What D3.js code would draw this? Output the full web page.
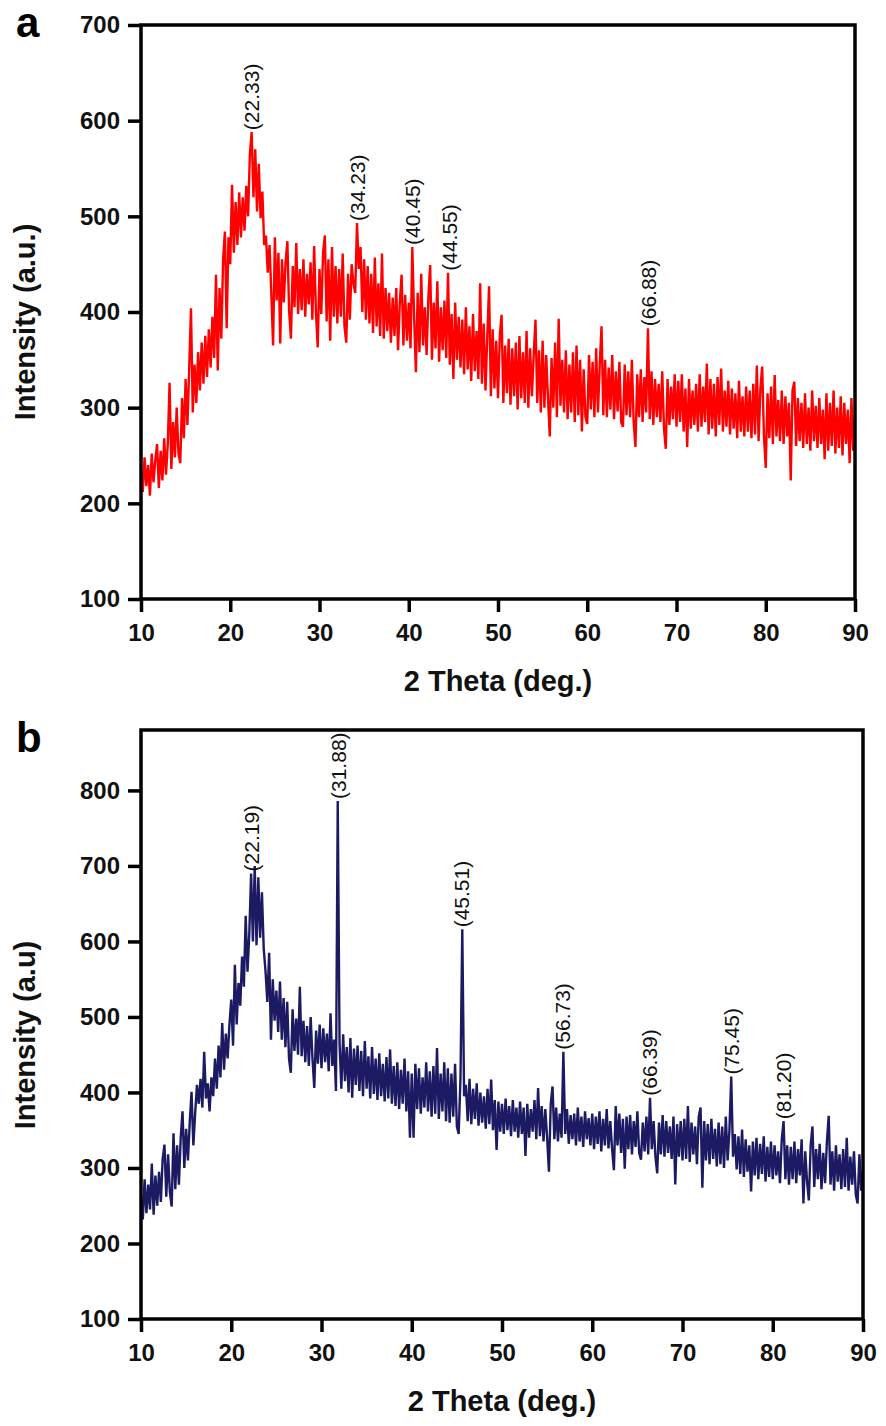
<!DOCTYPE html>
<html><head><meta charset="utf-8">
<script src="https://cdn.jsdelivr.net/npm/d3@7"></script>
<style>body{margin:0;background:#fff} svg{display:block}</style>
</head><body><svg id="c" width="886" height="1426"></svg>
<script>
// 2θ sampling of the digitised patterns
const thetaStart = 10, thetaStep = 0.2;

// Panel a intensities (10° .. 90°, 0.2° step)
const intensityA = [
235,212,248,218,240,208,252,222,245,262,
216,255,224,268,230,262,326,236,285,248,
300,252,242,310,268,330,282,340,404,295,
345,305,358,318,368,325,375,332,382,342,
395,352,439,339,425,372,455,484,383,478,
450,533,462,515,470,525,478,520,485,532,
500,565,588,520,570,505,555,498,526,470,
480,441,470,420,365,478,412,462,367,455,
410,452,474,400,372,448,405,472,398,445,
402,455,395,440,408,452,392,469,400,363,
445,398,462,480,390,455,370,468,395,448,
388,445,395,461,385,368,440,392,450,430,
420,493,445,468,400,455,392,448,388,440,
378,457,385,430,375,461,372,425,380,420,
368,415,375,425,360,410,439,365,418,370,
410,362,468,395,337,420,358,440,365,405,
355,415,449,350,410,362,432,348,405,360,
412,352,441,345,398,330,410,350,395,342,
392,335,405,340,385,328,398,338,380,330,
430,325,388,318,375,427,312,382,320,370,
310,375,397,305,365,315,372,303,362,312,
368,298,375,310,358,305,380,300,362,312,
355,392,305,360,295,370,300,355,310,270,
352,300,368,290,393,302,350,295,360,288,
345,295,358,285,365,292,350,275,340,290,
283,355,298,348,290,362,295,345,385,292,
350,290,342,298,355,288,338,296,348,285,
280,345,292,338,290,350,285,259,335,290,
340,285,332,295,383,288,338,282,330,290,
325,285,338,278,257,330,282,322,288,335,
280,328,285,335,275,320,259,330,278,318,
282,325,275,335,280,322,285,346,272,330,
278,325,270,332,282,341,275,318,280,328,
272,320,278,315,268,328,275,312,270,322,
275,318,268,325,272,344,265,320,343,270,
237,315,268,322,262,334,270,308,265,318,
262,312,270,305,224,318,327,260,310,265,
305,258,315,262,300,255,318,265,302,258,
310,262,298,246,315,255,305,260,318,252,
300,258,312,250,305,262,298,242,310,255,
290
];

// Panel b intensities (10° .. 90°, 0.2° step)
const intensityB = [
262,232,285,240,278,245,306,238,290,250,
295,255,312,331,262,318,268,249,346,272,
330,278,340,375,300,352,310,360,401,330,
372,410,385,418,380,454,392,412,375,420,
395,445,405,462,420,492,430,478,445,490,
523,462,569,490,545,515,580,540,634,560,
610,690,600,700,595,685,605,665,590,560,
520,585,470,550,495,535,480,547,470,525,
460,520,445,426,510,455,498,450,540,448,
495,440,488,435,500,445,406,482,438,490,
432,485,440,478,428,505,435,470,402,786,
465,405,477,415,460,400,472,393,458,410,
462,402,455,395,468,405,448,392,460,398,
445,390,452,395,438,388,447,392,457,385,
435,382,440,378,430,385,445,375,428,340,
425,340,438,378,432,372,420,380,440,375,
428,368,435,372,459,365,425,375,440,362,
432,360,425,368,438,355,345,420,616,395,
410,362,418,358,405,365,412,356,400,360,
395,352,405,358,417,350,390,324,388,348,
385,345,392,350,382,342,390,348,380,340,
388,345,380,316,385,340,378,348,390,338,
406,342,382,335,378,340,295,385,408,338,
380,335,372,340,454,345,378,332,370,338,
372,330,380,335,368,328,375,338,366,330,
372,325,368,332,375,322,365,330,378,326,
362,325,297,382,330,372,320,365,299,368,
325,370,318,362,328,375,320,311,360,322,
368,318,393,325,362,315,293,360,318,370,
315,362,320,355,312,368,278,358,315,362,
310,365,312,382,308,360,318,355,305,368,
380,274,362,310,358,305,365,312,352,302,
360,305,355,300,368,310,350,421,315,345,
298,342,292,351,288,338,295,330,269,335,
290,340,285,332,292,342,282,328,288,335,
285,330,290,322,280,338,362,285,330,278,
328,285,335,280,325,290,338,253,322,282,
257,330,355,275,325,285,332,272,320,280,
335,369,278,322,270,330,282,318,272,325,
275,340,270,315,278,322,265,253,318,270,
295
];

const xTicks = [10,20,30,40,50,60,70,80,90];
const yTicksA = [100,200,300,400,500,600,700];
const yTicksB = [100,200,300,400,500,600,700,800];

const peaksA = [22.33, 34.23, 40.45, 44.55, 66.88];
const peakLabelsA = ["(22.33)","(34.23)","(40.45)","(44.55)","(66.88)"];
const peaksB = [22.19, 31.88, 45.51, 56.73, 66.39, 75.45, 81.20];
const peakLabelsB = ["(22.19)","(31.88)","(45.51)","(56.73)","(66.39)","(75.45)","(81.20)"];

const svg = d3.select("#c");
const FONT = "'Liberation Sans', Arial, sans-serif";

function panel(cfg) {
  const g = svg.append("g");
  const x = d3.scaleLinear().domain([10, 90]).range([cfg.left, cfg.right]);
  const y = d3.scaleLinear().domain([100, cfg.yMax]).range([cfg.bottom, cfg.top]);
  const theta = i => thetaStart + i * thetaStep;

  const clipId = "clip" + cfg.letter;
  svg.append("clipPath").attr("id", clipId).append("rect")
    .attr("x", cfg.left).attr("y", cfg.top)
    .attr("width", cfg.right - cfg.left).attr("height", cfg.bottom - cfg.top);

  // data line
  const line = d3.line().x((d, i) => x(theta(i))).y(d => y(d));
  g.append("path").datum(cfg.data)
    .attr("clip-path", `url(#${clipId})`)
    .attr("fill", "none").attr("stroke", cfg.color)
    .attr("stroke-width", 2.4).attr("stroke-linejoin", "bevel")
    .attr("d", line);

  // frame
  g.append("rect").attr("x", cfg.left).attr("y", cfg.top)
    .attr("width", cfg.right - cfg.left).attr("height", cfg.bottom - cfg.top)
    .attr("fill", "none").attr("stroke", "#000").attr("stroke-width", 3.5);

  // axes
  const ya = g.append("g").attr("transform", `translate(${cfg.left},0)`)
    .call(d3.axisLeft(y).tickValues(cfg.yTicks).tickSize(13).tickSizeOuter(0).tickPadding(8));
  const xa = g.append("g").attr("transform", `translate(0,${cfg.bottom})`)
    .call(d3.axisBottom(x).tickValues(xTicks).tickSize(13).tickSizeOuter(0).tickPadding(12));
  [ya, xa].forEach(a => {
    a.select(".domain").remove();
    a.selectAll(".tick line").attr("stroke", "#000").attr("stroke-width", 3.5);
    a.selectAll(".tick text").attr("fill", "#111")
      .style("font-family", FONT).style("font-weight", "bold").style("font-size", "24px");
  });

  // axis titles
  g.append("text").attr("x", (cfg.left + cfg.right) / 2).attr("y", cfg.xTitleY)
    .attr("text-anchor", "middle").style("font-family", FONT)
    .style("font-weight", "bold").style("font-size", "29px").attr("fill", "#111")
    .text("2 Theta (deg.)");
  g.append("text").attr("transform", `translate(35,${cfg.yTitleC}) rotate(-90)`)
    .attr("text-anchor", "middle").style("font-family", FONT)
    .style("font-weight", "bold").style("font-size", "29px").attr("fill", "#111")
    .text(cfg.yTitle);

  // panel letter
  g.append("text").attr("x", 16).attr("y", cfg.letterY)
    .style("font-family", FONT).style("font-weight", "bold").style("font-size", "42px")
    .attr("fill", "#000").text(cfg.letter);

  // peak labels
  cfg.peaks.forEach((p, k) => {
    let m = -Infinity;
    cfg.data.forEach((v, i) => { if (Math.abs(theta(i) - p) <= 0.3 && v > m) m = v; });
    g.append("text")
      .attr("transform", `translate(${x(p)},${y(m) - 2}) rotate(-90)`)
      .attr("text-anchor", "start").attr("dominant-baseline", "central")
      .style("font-family", FONT).style("font-size", "21px").attr("fill", "#111")
      .text(cfg.labels[k]);
  });
}

panel({letter: "a", left: 141, right: 855, top: 25, bottom: 599, yMax: 700,
  yTicks: yTicksA, data: intensityA, color: "#ff0000",
  yTitle: "Intensity (a.u.)", yTitleC: 322, xTitleY: 691, letterY: 37,
  peaks: peaksA, labels: peakLabelsA});

panel({letter: "b", left: 141, right: 863, top: 730, bottom: 1319, yMax: 880,
  yTicks: yTicksB, data: intensityB, color: "#1b1a62",
  yTitle: "Intensity (a.u)", yTitleC: 1035, xTitleY: 1411, letterY: 752,
  peaks: peaksB, labels: peakLabelsB});
</script>
</body></html>
